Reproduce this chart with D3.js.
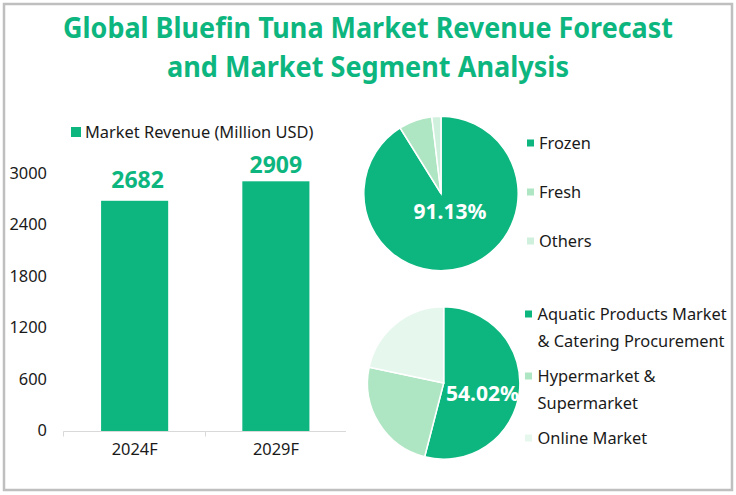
<!DOCTYPE html>
<html>
<head>
<meta charset="utf-8">
<script src="https://cdn.jsdelivr.net/npm/d3@7"></script>
<style>
  html, body { margin: 0; padding: 0; background: #fff; }
  svg { display: block; }
  text { font-family: "Noto Sans", sans-serif; }
  .domain, .tick line { stroke: #d9d9d9; }
</style>
</head>
<body>
<svg id="chart" width="736" height="495"></svg>
<script>
// ##### Data
var titleLines = ['Global Bluefin Tuna Market Revenue Forecast', 'and Market Segment Analysis'];
var years = ['2024F', '2029F'];
var revenue = [2682, 2909];
var revenueTicks = [0, 600, 1200, 1800, 2400, 3000];
var revenueName = 'Market Revenue (Million USD)';

var productNames = ['Frozen', 'Fresh', 'Others'];
var productShares = [91.13, 6.97, 1.9];

var channelNames = [['Aquatic Products Market', '& Catering Procurement'], ['Hypermarket &', 'Supermarket'], ['Online Market']];
var channelShares = [54.02, 24.3, 21.68];

// ##### Colours
var green = '#0db67f';
var textColour = '#1a1a1a';
var productColours = [green, '#aee5c2', '#cff0dc'];
var channelColours = [green, '#aee5c2', '#e6f7ee'];

var labelSize = 16.4;

var svg = d3.select('#chart');

// Frame around the whole picture
svg.append('rect')
  .attr('x', 4).attr('y', 4)
  .attr('width', 728).attr('height', 486)
  .attr('fill', 'none')
  .attr('stroke', '#bfbfbf')
  .attr('stroke-width', 2.5);

// ##### Title
// NOTE The original font is narrower than Noto Sans, hence the forced text lengths
var titleLengths = [610, 402];

svg.selectAll('.title')
  .data(titleLines)
  .enter()
  .append('text')
  .attr('class', 'title')
  .attr('x', 368)
  .attr('y', function(d, i) { return 37.5 + i * 39; })
  .attr('text-anchor', 'middle')
  .attr('font-size', 28.5)
  .attr('font-weight', 700)
  .attr('textLength', function(d, i) { return titleLengths[i]; })
  .attr('lengthAdjust', 'spacingAndGlyphs')
  .attr('fill', green)
  .text(function(d) { return d; });

// ##### Bar chart
var x = d3.scaleBand().domain(years).range([64, 346.5]).paddingInner(0.525).paddingOuter(0.2625);
var y = d3.scaleLinear().domain([0, 3000]).range([431, 173.5]);

var yAxis = d3.axisLeft(y).tickValues(revenueTicks).tickSize(0).tickPadding(0).tickFormat(d3.format('d'));
var yGroup = svg.append('g').attr('transform', 'translate(47,0)').call(yAxis);
yGroup.select('.domain').remove();
yGroup.selectAll('text').attr('font-size', labelSize).attr('fill', textColour).attr('dy', '0.3em');

var xAxis = d3.axisBottom(x).tickSize(0).tickPadding(12);
var xGroup = svg.append('g').attr('transform', 'translate(0,431.5)').call(xAxis);
xGroup.selectAll('text').attr('font-size', labelSize).attr('fill', textColour);
xGroup.select('.domain').attr('d', 'M63.5,5V0H205.5V5M205.5,0H346');

svg.selectAll('.bar')
  .data(revenue)
  .enter()
  .append('rect')
  .attr('class', 'bar')
  .attr('x', function(d, i) { return x(years[i]); })
  .attr('y', function(d) { return y(d); })
  .attr('width', x.bandwidth())
  .attr('height', function(d) { return y(0) - y(d); })
  .attr('fill', green);

// The value labels are not placed the same way over both bars
var barLabelDx = [3, 0];
var barLabelDy = [-12.4, -8.3];

svg.selectAll('.bar-label')
  .data(revenue)
  .enter()
  .append('text')
  .attr('class', 'bar-label')
  .attr('x', function(d, i) { return x(years[i]) + x.bandwidth() / 2 + barLabelDx[i]; })
  .attr('y', function(d, i) { return y(d) + barLabelDy[i]; })
  .attr('text-anchor', 'middle')
  .attr('font-size', 23)
  .attr('font-weight', 700)
  .attr('fill', green)
  .text(function(d) { return d; });

// Legend of the bars
svg.append('rect').attr('x', 71).attr('y', 127).attr('width', 10).attr('height', 10).attr('fill', green);
svg.append('text').attr('x', 85).attr('y', 138).attr('font-size', labelSize).attr('fill', textColour).text(revenueName);

// ##### Pies
// Draws one pie and its big label, slices start at 12 o'clock and go clockwise
function drawPie(values, colours, cx, cy, radius, label, labelX, labelY) {
  var pie = d3.pie().sort(null);
  var arc = d3.arc().innerRadius(0).outerRadius(radius);
  var g = svg.append('g').attr('transform', 'translate(' + cx + ',' + cy + ')');

  g.selectAll('path')
    .data(pie(values))
    .enter()
    .append('path')
    .attr('d', arc)
    .attr('fill', function(d, i) { return colours[i]; })
    .attr('stroke', '#fff')
    .attr('stroke-width', 1.5);

  svg.append('text')
    .attr('x', labelX)
    .attr('y', labelY)
    .attr('text-anchor', 'middle')
    .attr('font-size', 21)
    .attr('font-weight', 700)
    .attr('fill', '#fff')
    .text(label);
}

drawPie(productShares, productColours, 441, 193.5, 77.2, productShares[0] + '%', 450, 219);
drawPie(channelShares, channelColours, 443.7, 383, 76.2, channelShares[0] + '%', 482.5, 401);

// ##### Pie legends
var productLegendY = [143, 192, 241];
var channelLegendY = [314, 376, 438];

productNames.forEach(function(name, i) {
  svg.append('rect').attr('x', 527).attr('y', productLegendY[i] - 3.5).attr('width', 7).attr('height', 7).attr('fill', productColours[i]);
  svg.append('text').attr('x', 539).attr('y', productLegendY[i] + 5.5).attr('font-size', labelSize).attr('fill', textColour).text(name);
});

channelNames.forEach(function(lines, i) {
  svg.append('rect').attr('x', 525).attr('y', channelLegendY[i] - 3.5).attr('width', 7).attr('height', 7).attr('fill', channelColours[i]);
  lines.forEach(function(line, j) {
    svg.append('text').attr('x', 537.5).attr('y', channelLegendY[i] + 5.5 + j * 27).attr('font-size', labelSize).attr('fill', textColour).text(line);
  });
});
</script>
</body>
</html>
